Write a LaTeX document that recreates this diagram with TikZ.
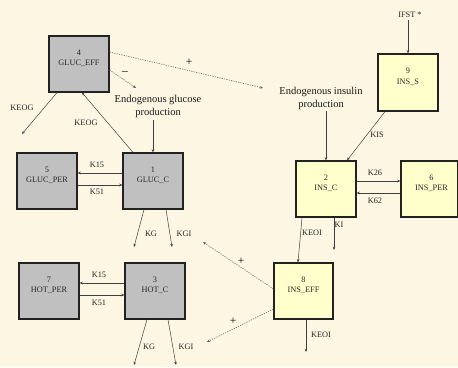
\documentclass[tikz,border=0pt]{standalone}
\usepackage{fontspec}
\setmainfont{Liberation Serif}
\usetikzlibrary{arrows.meta}
\definecolor{bgc}{HTML}{FCF6E2}
\definecolor{greyfill}{HTML}{C0C0C0}
\definecolor{yelfill}{HTML}{FFFFCC}
\definecolor{edgec}{HTML}{222222}
\begin{document}
\begin{tikzpicture}[x=1pt,y=-1pt,
  boxg/.style={draw=edgec,line width=1.2pt,fill=greyfill,minimum width=60pt,minimum height=56pt,inner sep=0pt},
  boxy/.style={draw=edgec,line width=1.2pt,fill=yelfill,minimum width=60pt,minimum height=56pt,inner sep=0pt},
  boxtext/.style={font=\fontsize{8.3}{10.5}\selectfont,align=center,inner sep=0pt,text=black!85},
  lbl/.style={font=\fontsize{8.3}{10}\selectfont,inner sep=0pt,text=black!85},
  sign/.style={font=\fontsize{11.5}{12}\selectfont,inner sep=0pt,text=black},
  big/.style={font=\fontsize{10.5}{13}\selectfont,align=center,inner sep=0pt,text=black!90},
  conn/.style={draw=black!75,line width=0.5pt,-{Stealth[length=3.2pt,width=2.6pt]}},
  dconn/.style={draw=black!65,line width=0.55pt,dash pattern=on 1.2pt off 1.2pt,-{Stealth[length=3.2pt,width=2.6pt]}}
]
\fill[bgc] (0,0) rectangle (458,367);
\useasboundingbox (0,0) rectangle (458,367);

% boxes
\node[boxg] (b4) at (79,64) {};
\node[boxg] (b5) at (47,181) {};
\node[boxg] (b1) at (153,181) {};
\node[boxg] (b7) at (49,291) {};
\node[boxg] (b3) at (155,291) {};
\node[boxy,minimum height=57pt] (b9) at (408,82.5) {};
\node[boxy] (b2) at (326,189) {};
\node[boxy,minimum width=57pt] (b6) at (429.5,189) {};
\node[boxy,minimum width=59pt] (b8) at (303.5,291) {};

\node[boxtext] (t4) at ([yshift=5.5pt]b4.center) {4\\GLUC\_EFF};
\node[boxtext] (t5) at ([yshift=5.5pt]b5.center) {5\\GLUC\_PER};
\node[boxtext] (t1) at ([yshift=5.5pt]b1.center) {1\\GLUC\_C};
\node[boxtext] (t7) at ([yshift=5.5pt]b7.center) {7\\HOT\_PER};
\node[boxtext] (t3) at ([yshift=5.5pt]b3.center) {3\\HOT\_C};
\node[boxtext] (t9) at ([yshift=5.5pt]b9.center) {9\\INS\_S};
\node[boxtext] (t2) at ([yshift=5.5pt]b2.center) {2\\INS\_C};
\node[boxtext] (t6) at ([xshift=2pt,yshift=5.5pt]b6.center) {6\\INS\_PER};
\node[boxtext] (t8) at ([yshift=5.5pt]b8.center) {8\\INS\_EFF};

% free texts
\node[big] (egp) at (158,106.5) {Endogenous glucose\\production};
\node[big] (eip) at (321,98) {Endogenous insulin\\production};
\node[lbl] (ifst) at (410,15) {IFST *};

% free ends
\coordinate (e1) at (22,134);
\coordinate (d1) at (263,88);
\coordinate (d2) at (136,88);
\coordinate (g1) at (134,247);
\coordinate (g2) at (172,247);
\coordinate (h1) at (134,365);
\coordinate (h2) at (176,365);
\coordinate (k1) at (334,250);
\coordinate (k2) at (306,352);
\coordinate (p1) at (203,242);
\coordinate (p2) at (207,342);

% connectors
\draw[conn] (b9.north |- ifst.south) ++(0,2) -- (b9.north);
\draw[conn] (b2.north |- eip.south) ++(0,2) -- (b2.north);
\draw[conn] ([xshift=-23pt]b9.south) -- ([xshift=21pt]b2.north);
\draw[conn] (b1.north |- egp.south) ++(0,2) -- (b1.north);
\draw[conn] ([xshift=-20pt]b1.north) -- ([xshift=3pt]b4.south);
\draw[conn] ([xshift=-22pt]b4.south) -- (e1);
\draw[dconn] ([yshift=12pt]b4.east) -- (d1);
\draw[dconn] ([yshift=-6pt]b4.east) -- (d2);

\draw[conn] ([yshift=8pt]b1.west) -- ([yshift=8pt]b5.east);
\draw[conn] ([yshift=-4pt]b5.east) -- ([yshift=-4pt]b1.west);
\draw[conn] ([xshift=-9pt]b1.south) -- (g1);
\draw[conn] ([xshift=13pt]b1.south) -- (g2);

\draw[conn] ([yshift=8pt]b3.west) -- ([yshift=8pt]b7.east);
\draw[conn] ([yshift=-4pt]b7.east) -- ([yshift=-4pt]b3.west);
\draw[conn] ([xshift=-8pt]b3.south) -- (h1);
\draw[conn] ([xshift=13pt]b3.south) -- (h2);

\draw[conn] ([xshift=-24pt]b2.south) -- ([xshift=-5.5pt]b8.north);
\draw[conn] ([xshift=8pt]b2.south) -- (k1);
\draw[conn] ([yshift=8pt]b2.east) -- ([yshift=8pt]b6.west);
\draw[conn] ([yshift=-4pt]b6.west) -- ([yshift=-4pt]b2.east);
\draw[conn] ([xshift=2.5pt]b8.south) -- (k2);
\draw[dconn] ([yshift=2pt]b8.west) -- (p1);
\draw[dconn] ([yshift=-18pt]b8.west) -- (p2);

% labels
\node[lbl] (l1) at (22,108) {KEOG};
\node[lbl] (l2) at (86,123) {KEOG};
\node[sign] (l3) at (189,62) {+};
\node[sign] (l4) at (125,73) {\textendash};
\node[lbl] (l5) at (97,165) {K15};
\node[lbl] (l6) at (97,192) {K51};
\node[lbl] (l7) at (151,234) {KG};
\node[lbl] (l8) at (184,234) {KGI};
\node[lbl] (l9) at (99,275) {K15};
\node[lbl] (l10) at (99,303) {K51};
\node[lbl] (l11) at (149,347) {KG};
\node[lbl] (l12) at (186,347) {KGI};
\node[lbl] (l13) at (377,135) {KIS};
\node[lbl] (l14) at (375,173) {K26};
\node[lbl] (l15) at (375,201) {K62};
\node[lbl] (l16) at (312,233) {KEOI};
\node[lbl] (l17) at (339,225) {KI};
\node[lbl] (l18) at (321,335) {KEOI};
\node[sign] (l19) at (241,261) {+};
\node[sign] (l20) at (233,321) {+};
\end{tikzpicture}
\end{document}
